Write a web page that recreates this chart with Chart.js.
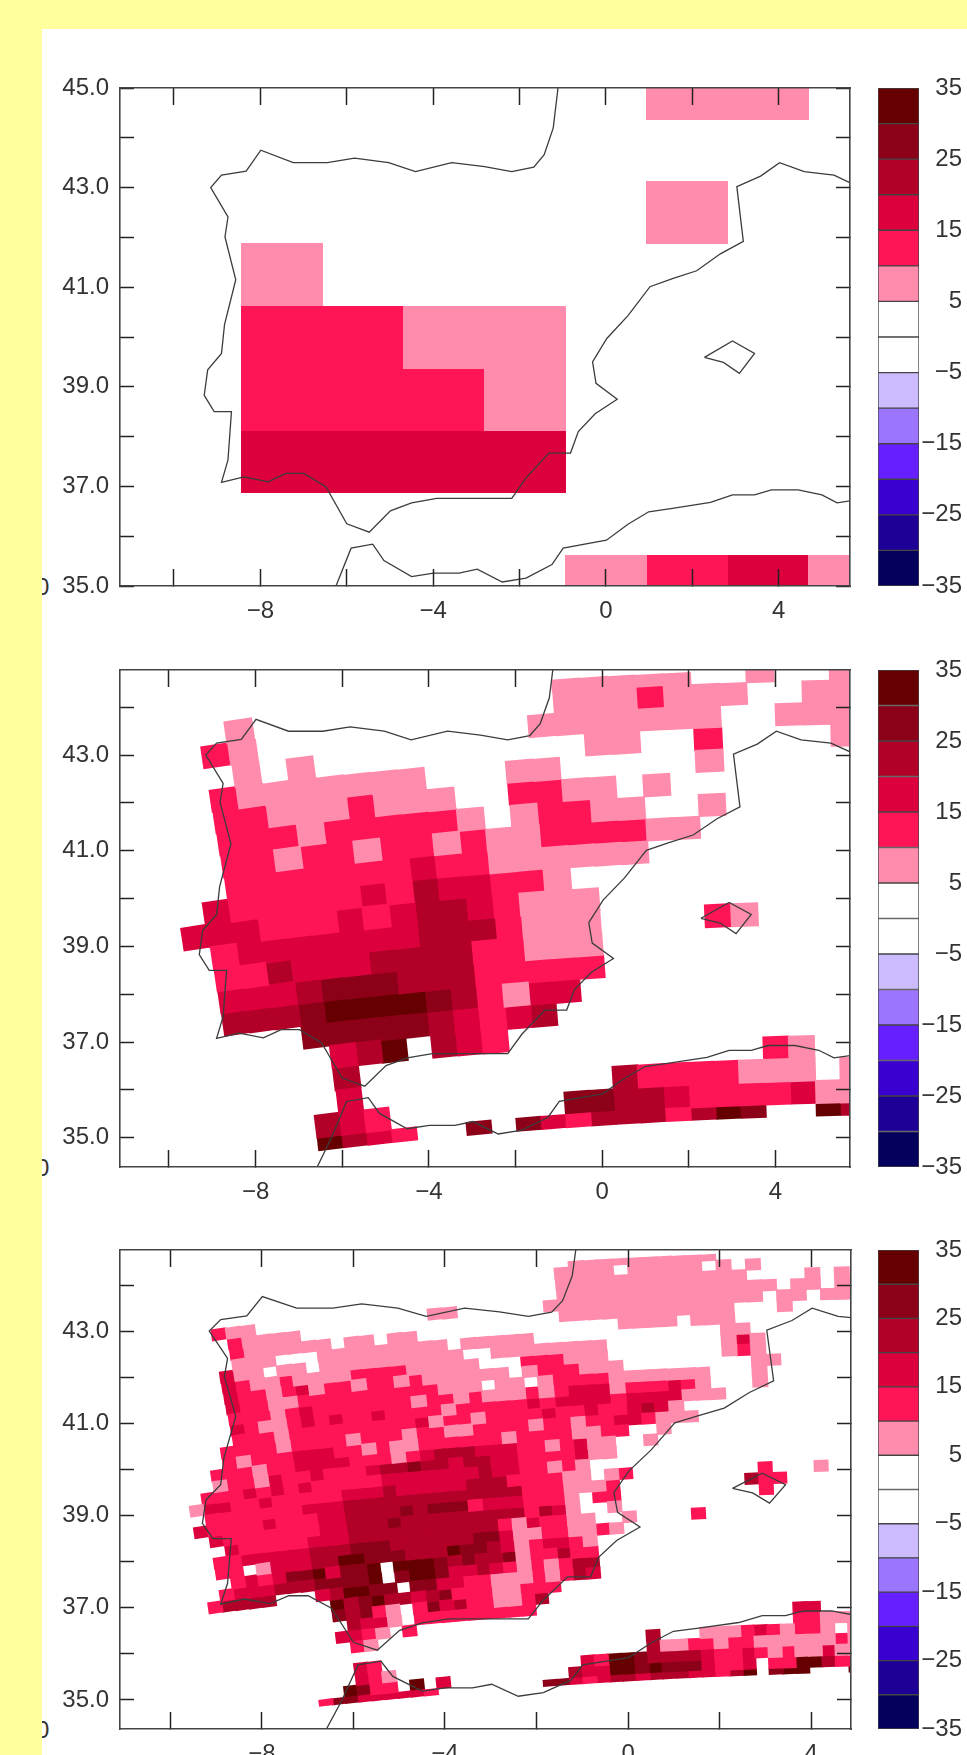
<!DOCTYPE html>
<html>
<head>
<meta charset="utf-8">
<title>Iberia maps</title>
<script src="https://cdn.jsdelivr.net/npm/chart.js@4/dist/chart.umd.min.js"></script>
<style>
  html, body { margin: 0; padding: 0; width: 967px; height: 1755px; overflow: hidden; background: #ffff9e; }
  #sheet { position: absolute; left: 42px; top: 29px; width: 925px; height: 1726px; background: #fff; overflow: hidden; }
  #sheet canvas { position: absolute; display: block; }
  .cut { position: absolute; left: -6px; font: 24px "Liberation Sans", sans-serif; color: #333; line-height: 24px; }
</style>
</head>
<body>
<div id="sheet">
  <span class="cut" style="top:546px">0</span>
  <span class="cut" style="top:1127px">0</span>
  <span class="cut" style="top:1689px">0</span>
</div>
<script>
// level codes in the rows: . none, 1 pink ... 6 maroon
const levelColors = ['#ff8cac', '#ff1456', '#dc003c', '#b20028', '#8c0018', '#660000'];

const barEdges = [-35, -30, -25, -20, -15, -10, -5, 0, 5, 10, 15, 20, 25, 30, 35];
const barColors = ['#05005e', '#1e0096', '#3a00d0', '#6620ff', '#9c75ff', '#ccbbff', '#ffffff',
                   '#ffffff', '#ff8cac', '#ff1456', '#dc003c', '#b20028', '#8c0018', '#660000'];
const barLabels = [-35, -25, -15, -5, 5, 15, 25, 35];

const xTickValues = [-10, -8, -6, -4, -2, 0, 2, 4];
const xTickLabels = [-8, -4, 0, 4];
const yTicksTop = [35, 36, 37, 38, 39, 40, 41, 42, 43, 44, 45];
const yLabelsTop = [35, 37, 39, 41, 43, 45];
const yTicksLower = [35, 36, 37, 38, 39, 40, 41, 42, 43, 44];
const yLabelsLower = [35, 37, 39, 41, 43];

// coast lines
const iberiaLon = [-1.11, -1.22, -1.43, -1.67, -2.18, -2.81, -3.57, -4.41, -5.03, -5.82, -6.45, -7.24, -7.99, -8.33, -8.9, -9.15, -8.75, -8.82, -8.57, -8.83, -8.9, -9.22, -9.3, -9.07, -8.67, -8.75, -8.9, -8.38, -7.82, -7.41, -6.99, -6.48, -6, -5.48, -4.99, -4.5, -3.92, -2.18, -1.85, -1.32, -0.82, -0.64, -0.25, 0.26, -0.23, -0.31, 0.02, 0.51, 1.02, 1.54, 2.1, 2.65, 3.18, 3.03, 3.58, 4.02, 4.59, 5.28, 5.72];
const iberiaLat = [45, 44.2, 43.66, 43.41, 43.32, 43.42, 43.5, 43.32, 43.5, 43.59, 43.5, 43.5, 43.75, 43.33, 43.25, 43, 42.41, 42.01, 41.15, 40.25, 39.67, 39.34, 38.83, 38.5, 38.5, 37.53, 37.08, 37.19, 37.09, 37.26, 37.26, 36.99, 36.25, 36.08, 36.51, 36.67, 36.76, 36.76, 37.17, 37.67, 37.67, 38.1, 38.46, 38.75, 39.07, 39.5, 39.97, 40.43, 41.01, 41.17, 41.33, 41.67, 41.92, 43.02, 43.23, 43.5, 43.32, 43.25, 43.07];
const mallorcaLon = [2.28, 2.93, 3.44, 3.09, 2.72, 2.28];
const mallorcaLat = [39.59, 39.92, 39.67, 39.27, 39.49, 39.59];
const africaLon = [-6.6, -6.25, -5.9, -5.4, -5.14, -4.5, -3.99, -3.4, -2.98, -2.4, -1.85, -1.25, -0.99, 0.01, 0.51, 0.99, 1.54, 2.42, 2.93, 3.44, 3.83, 4.45, 5, 5.35, 5.72];
const africaLat = [34.35, 35, 35.76, 35.84, 35.51, 35.19, 35.26, 35.26, 35.34, 35.08, 35.16, 35.43, 35.76, 35.92, 36.24, 36.49, 36.56, 36.68, 36.83, 36.83, 36.93, 36.93, 36.83, 36.67, 36.72];

// top panel: regular grid
const topLons = [-7.5, -5.625, -3.75, -1.875, 0, 1.875, 3.75, 5.625];
const topLats = [45, 43.75, 42.5, 41.25, 40, 38.75, 37.5, 36.25, 35];
const topRows = [
  '.....11.',
  '........',
  '.....1..',
  '1.......',
  '2211....',
  '2221....',
  '3333....',
  '........',
  '....1231'
];

// middle panel: tilted grid, 26 columns (blocks of ten)
const midRows = [
  '.......... .....11111 ..1..1',
  '...1...... .....11121 11..11',
  '..21...... ....111111 1..111',
  '...1.1.... ......11.. 2....1',
  '..21111111 ...11..... 1.....',
  '..22111211 1..2211.1. ......',
  '..22212222 21.12211.. 1.....',
  '..22122122 1211222211 ......',
  '..22222223 22111111.. ......',
  '.322222324 33221..... ......',
  '3332223234 432111.... ......',
  '.233333334 442111.... 21....',
  '.224333444 422111.... ......',
  '.333455544 422222.... ......',
  '.444566665 42133..... ......',
  '....555554 3234...... ......',
  '.....346.4 32........ ......',
  '.....4.... .......... ..21..',
  '.....3.... ......4222 2111.1',
  '....432... ....554432 222311',
  '....643211 5.53244424 65..64'
];

// bottom panel: same projection, finer grid, 49 columns (blocks of ten)
const lowRows = [
  '.......... .......... .........1 111111111. .........',
  '.......... .......... ........11 11.11111.1 .1.......',
  '.......... .......... ........11 1111111111 1....1.1.',
  '.......... .......... ........11 1111111111 111.11.1.',
  '....211... .........1 1......111 1111111111 11.11.11.',
  '.....21111 .......... ........11 1111111111 ...1.....',
  '.....21111 11.11.11.. .......... ..1111.111 .........',
  '.....111.. .111111111 .11111.... .........1 1........',
  '....311.11 .111111111 1..1111111 1........1 31.......',
  '....321121 1112222111 11...22211 1........1 21.......',
  '....322123 1221221211 1111.12221 11........ .11......',
  '....322112 2222222221 11.11.1222 21111111.. .1.......',
  '....222123 2222222122 1211121233 31222321.. .1.......',
  '....321123 2322322221 2222232333 323333111. .........',
  '....222122 2222222312 2122223223 223431.... .........',
  '...2222122 2212221221 1222212212 2332111... .........',
  '...2122233 3221211222 2221222211 22..1..... .........',
  '..22212233 3322212344 4333221231 1..1...... .........',
  '..12213223 2223445443 4433222231 1......... .........',
  '.222323232 2222333333 343322121. .......... .........',
  '1332232222 2333433333 444222211. 12........ .2...1...',
  '.222222233 3444444444 4444222111 2......... 422......',
  '3222232223 3444454555 23332221.2 2......... .2.......',
  '.322222223 3444544444 44442431.. 1......... .........',
  '..32222233 3444444444 442132211. .1....2... .........',
  '.223333344 4555444444 5531122112 1......... .........',
  '.22.133344 6655544465 543123321. .......... .........',
  '..23235563 556.666545 445122422. .......... .........',
  '.233344455 556.566533 432121244. .......... .........',
  '24444...34 6655.55332 211121243. .......... .........',
  '.........6 4564434522 211222.... .......... .........',
  '.........5 4521.25342 21124..... .......... .........',
  '.......... 4331.22222 2222...... .......... .........',
  '.........3 321.2..... .......... .......... ...33....',
  '.......... 21........ .......... .......... ...22111.',
  '.......... .......... .......... ..4...1112 321221.1.',
  '.......... 32........ .......... ..41122122 11111121.',
  '.......... 321....... .......326 6544443223 21211311.',
  '.........6 52216.3... ......4336 6565553223 .2266422.',
  '.......255 3333321... ....553234 4344433246 .566...6.'
];

// cone projection used by the tilted grids
const coneN = 0.5;
const coneF = 2.279;
const coneLon0 = 8;
const RAD = Math.PI / 180;

// big point radius only keeps edge cells from being skipped, it must not shrink the plot
Chart.registry.getController('scatter').prototype.getMaxOverflow = function () { return 0; };

const cellImages = {};

function cellImage(w, h, color) {
  const key = w + 'x' + h + color;
  if (!cellImages[key]) {
    const c = document.createElement('canvas');
    c.width = w;
    c.height = h;
    const g = c.getContext('2d');
    g.fillStyle = color;
    g.fillRect(0, 0, w, h);
    cellImages[key] = c;
  }
  return cellImages[key];
}

function regularPoints(panel, code) {
  const points = [];
  const dLon = topLons[1] - topLons[0];
  const dLat = topLats[0] - topLats[1];
  panel.rows.forEach((row, r) => {
    row.split('').forEach((ch, c) => {
      if (ch === code) {
        points.push({
          x: topLons[c], y: topLats[r], rot: 0,
          w: Math.round(dLon * panel.pxLon) + 1,
          h: Math.round(dLat * panel.pxLat) + 1
        });
      }
    });
  });
  return points;
}

function conePoints(panel, code) {
  const points = [];
  const last = panel.rows.length - 1;
  panel.rows.forEach((row, r) => {
    row.replace(/ /g, '').split('').forEach((ch, c) => {
      if (ch !== code) return;
      const edge = r === 0 ? 0.225 : (r === last ? -0.225 : 0);
      const gx = panel.x0 + panel.d * c;
      const gy = panel.y0 + panel.d * (r + panel.firstRow + edge);
      const rho = Math.hypot(gx, gy);
      const lon = coneLon0 + Math.atan2(gx, gy) / RAD / coneN;
      const lat = 2 * Math.atan(Math.pow(coneF / rho, 1 / coneN)) / RAD - 90;
      const step = panel.d / (coneN * rho) / RAD;
      const tall = step * Math.cos(lat * RAD) * panel.pxLat * (edge ? 0.55 : 1);
      // a little overlap so rotated neighbours leave no seam
      points.push({
        x: lon, y: lat, rot: coneN * (lon - coneLon0),
        w: Math.round(step * panel.pxLon + 1.3),
        h: Math.round(tall + 1.3)
      });
    });
  });
  return points;
}

function coastDataset(lons, lats) {
  return {
    data: lons.map((lon, i) => ({ x: lon, y: lats[i] })),
    showLine: true, pointRadius: 0, borderColor: '#3c3c3c', borderWidth: 1.3,
    clip: 0, order: 0
  };
}

function levelDataset(panel, level) {
  const code = String(level + 1);
  return {
    data: panel.cone ? conePoints(panel, code) : regularPoints(panel, code),
    showLine: false,
    clip: 0,
    order: 1,
    pointRadius: panel.pointRadius,
    pointBorderWidth: 0,
    pointStyle: ctx => (ctx.raw ? cellImage(ctx.raw.w, ctx.raw.h, levelColors[level]) : 'rect'),
    pointRotation: ctx => (ctx.raw ? ctx.raw.rot : 0)
  };
}

// label overhang must not push the plot area in
function clearPadding(scale) {
  scale.paddingTop = 0;
  scale.paddingBottom = 0;
  scale.paddingLeft = 0;
  scale.paddingRight = 0;
}

function frameAxis(position, range, values, size, tickLength) {
  return {
    type: 'linear',
    position: position,
    axis: position === 'top' || position === 'bottom' ? 'x' : 'y',
    min: range[0],
    max: range[1],
    afterBuildTicks: scale => { scale.ticks = values.map(v => ({ value: v })); },
    afterFit: scale => {
      if (scale.isHorizontal()) scale.height = size; else scale.width = size;
      clearPadding(scale);
    },
    grid: {
      drawOnChartArea: false, tickLength: tickLength, tickColor: '#222', tickWidth: 1.5, z: 1
    },
    border: { display: true, color: '#444', width: 1.6, z: 2 },
    ticks: { display: false, autoSkip: false, maxRotation: 0, minRotation: 0 }
  };
}

function drawPanel(panel) {
  const plotW = panel.right - panel.left;
  const plotH = panel.bottom - panel.top;
  const topSize = 14;
  panel.pxLon = plotW / (panel.xRange[1] - panel.xRange[0]);
  panel.pxLat = plotH / (panel.yRange[1] - panel.yRange[0]);

  const canvas = document.createElement('canvas');
  const leftSize = panel.left - 42;
  canvas.width = leftSize + plotW + 5;
  canvas.height = topSize + plotH + 45;
  canvas.style.left = '0px';
  canvas.style.top = (panel.top - topSize - 29) + 'px';
  document.getElementById('sheet').appendChild(canvas);

  const labelFont = { family: '"Liberation Sans", sans-serif', size: 24 };
  const datasets = [
    coastDataset(iberiaLon, iberiaLat),
    coastDataset(mallorcaLon, mallorcaLat),
    coastDataset(africaLon, africaLat)
  ];
  levelColors.forEach((color, level) => datasets.push(levelDataset(panel, level)));

  const bottomAxis = frameAxis('bottom', panel.xRange, xTickValues, 45, -17);
  bottomAxis.ticks = {
    display: true, autoSkip: false, maxRotation: 0, minRotation: 0,
    font: labelFont, color: '#333', padding: 17 + 11,
    callback: v => (xTickLabels.includes(v) ? (v < 0 ? '\u2212' + Math.abs(v) : String(v)) : '')
  };
  const leftAxis = frameAxis('left', panel.yRange, panel.yTicks, leftSize, -14);
  leftAxis.ticks = {
    display: true, autoSkip: false, font: labelFont, color: '#333', padding: 14 + 11,
    callback: v => (panel.yLabels.includes(v) ? v.toFixed(1) : '')
  };

  new Chart(canvas, {
    type: 'scatter',
    data: { datasets: datasets },
    options: {
      responsive: false,
      animation: false,
      events: [],
      parsing: false,
      devicePixelRatio: 1,
      plugins: { legend: { display: false }, tooltip: { enabled: false } },
      layout: { padding: 0, autoPadding: false },
      scales: {
        x: bottomAxis,
        y: leftAxis,
        xTop: frameAxis('top', panel.xRange, xTickValues, topSize, -17),
        yRight: frameAxis('right', panel.yRange, panel.yTicks, 5, -14)
      }
    }
  });
}

function drawColorBar(top, bottom) {
  const canvas = document.createElement('canvas');
  canvas.width = 84;
  canvas.height = bottom - top + 24;
  canvas.style.left = (878 - 42) + 'px';
  canvas.style.top = (top - 12 - 29) + 'px';
  document.getElementById('sheet').appendChild(canvas);

  new Chart(canvas, {
    type: 'bar',
    data: {
      labels: ['scale'],
      datasets: barColors.map((color, i) => ({
        data: [[barEdges[i], barEdges[i + 1]]],
        backgroundColor: color,
        borderColor: '#444',
        borderWidth: 1,
        borderSkipped: false,
        barPercentage: 1,
        categoryPercentage: 1,
        grouped: false
      }))
    },
    options: {
      responsive: false,
      animation: false,
      events: [],
      devicePixelRatio: 1,
      plugins: { legend: { display: false }, tooltip: { enabled: false } },
      layout: { padding: { top: 12, bottom: 12 }, autoPadding: false },
      scales: {
        x: { display: false },
        y: {
          position: 'right',
          min: -35,
          max: 35,
          afterBuildTicks: scale => { scale.ticks = barLabels.map(v => ({ value: v })); },
          afterFit: scale => {
            scale.width = 43;
            clearPadding(scale);
          },
          grid: { display: false, drawTicks: false },
          border: { display: false },
          ticks: {
            autoSkip: false, crossAlign: 'far', padding: 1, color: '#333',
            font: { family: '"Liberation Sans", sans-serif', size: 24 },
            callback: v => (v < 0 ? '\u2212' + Math.abs(v) : String(v))
          }
        }
      }
    }
  });
}

drawPanel({
  rows: topRows, cone: false, pointRadius: 80,
  left: 120, right: 850, top: 88, bottom: 586,
  xRange: [-11.25, 5.65], yRange: [35, 45],
  yTicks: yTicksTop, yLabels: yLabelsTop
});
drawPanel({
  rows: midRows, cone: true, pointRadius: 30, firstRow: 1,
  x0: -0.2375, y0: 1.4619, d: 0.00825,
  left: 120, right: 850, top: 670, bottom: 1167,
  xRange: [-11.13, 5.72], yRange: [34.39, 44.78],
  yTicks: yTicksLower, yLabels: yLabelsLower
});
drawPanel({
  rows: lowRows, cone: true, pointRadius: 16, firstRow: 1,
  x0: -0.23806, y0: 1.46685, d: 0.00415,
  left: 120, right: 851, top: 1250, bottom: 1729,
  xRange: [-11.1, 4.87], yRange: [34.37, 44.76],
  yTicks: yTicksLower, yLabels: yLabelsLower
});

drawColorBar(88, 586);
drawColorBar(670, 1167);
drawColorBar(1250, 1729);
</script>
</body>
</html>
